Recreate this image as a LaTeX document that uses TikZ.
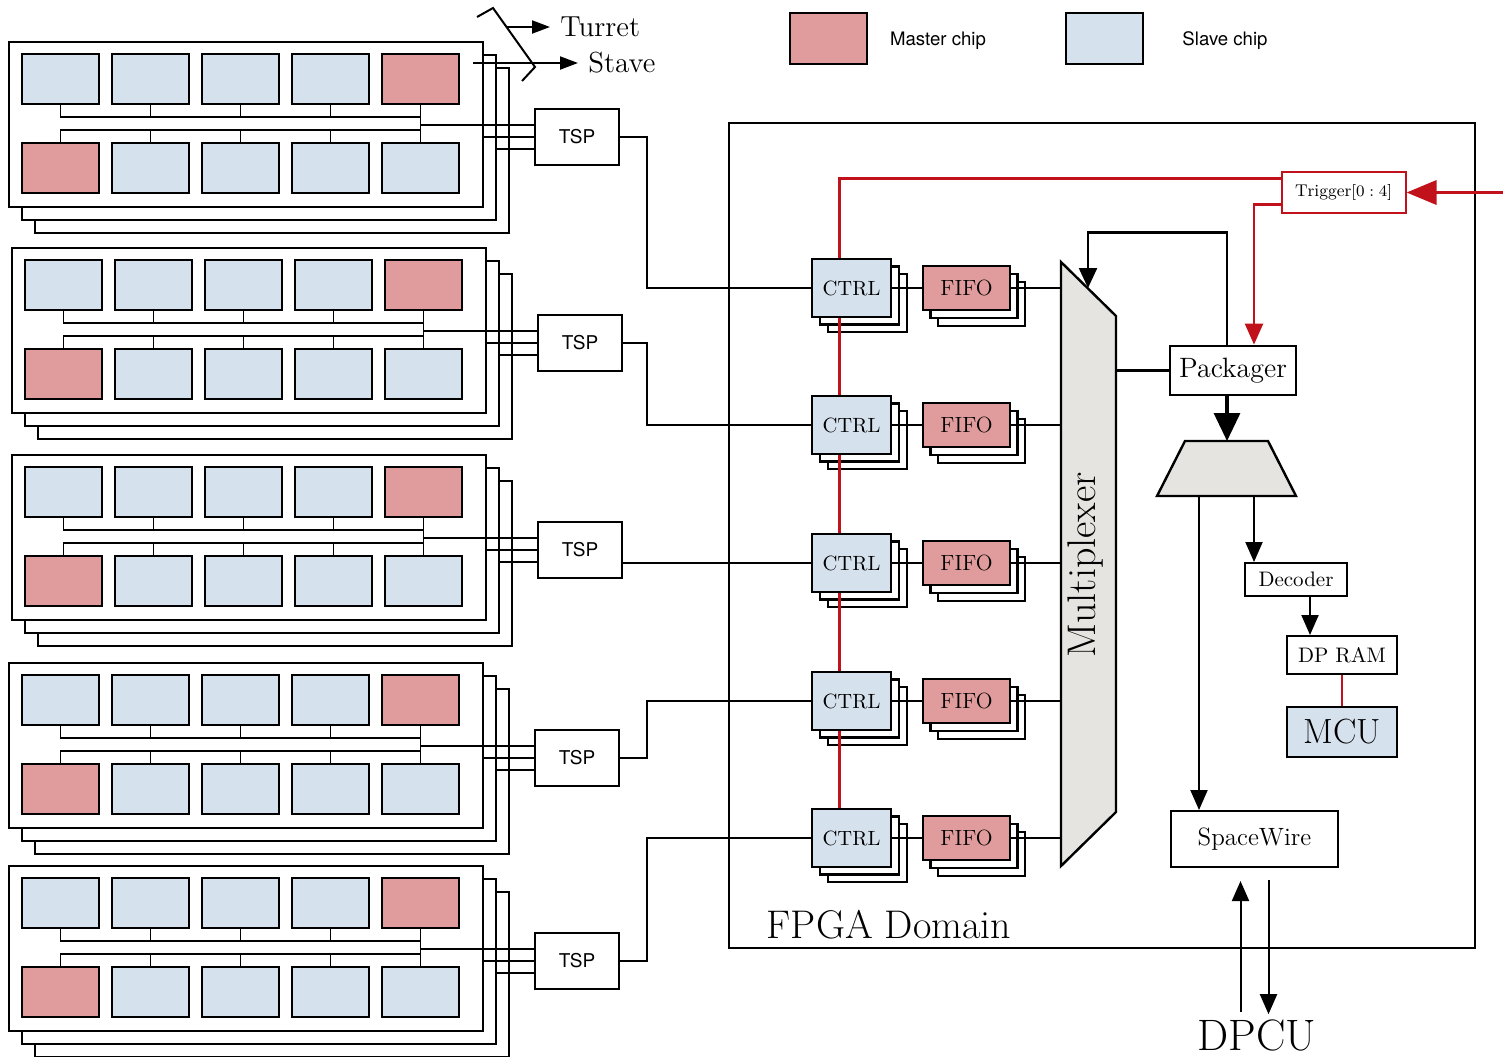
\documentclass[tikz,border=0pt]{standalone}
\usepackage{fontspec}
\newfontfamily\helv{TeX Gyre Heros}
\usetikzlibrary{arrows.meta,calc}
\definecolor{mastercol}{HTML}{E09C9C}
\definecolor{slavecol}{HTML}{D6E1EE}
\definecolor{muxgray}{HTML}{E5E4E1}
\definecolor{trigred}{HTML}{C1121C}

\begin{document}
\begin{tikzpicture}[x=0.5pt,y=-0.5pt,
  chip/.style={draw,line width=1pt,minimum width=38.5pt,minimum height=25pt,inner sep=0pt},
  masterchip/.style={chip,fill=mastercol},
  slavechip/.style={chip,fill=slavecol},
  board/.style={draw,fill=white,line width=1pt},
  wire/.style={line width=0.9pt},
  link/.style={line width=1.4pt},
  stack/.style={draw,fill=white,line width=1.1pt},
  blk/.style={draw,fill=white,line width=1.1pt,inner sep=0pt},
  redwire/.style={trigred,line width=1.1pt},
  arr/.style={line width=1pt,-{Triangle[length=10pt,width=8.5pt]}},
  sanslbl/.style={font=\helv\fontsize{9.3}{11}\selectfont}
]
  \useasboundingbox (0,0) rectangle (1503,1056);

  % Staves: three stacked boards, ten chips, one TSP each
  \foreach \n/\sx/\sy in {1/9/42,2/12/248,3/12/455,4/9/663,5/9/866} {
    \foreach \k in {2,1}
      \draw[board] (\sx+13*\k,\sy+13*\k) rectangle ++(474,165);
    \draw[board] (\sx,\sy) rectangle ++(474,165);
    \foreach \j in {0,...,3}
      \node[slavechip] (t\n\j) at (\sx+51.5+90*\j,\sy+37) {};
    \node[masterchip] (t\n4) at (\sx+411.5,\sy+37) {};
    \node[masterchip] (b\n0) at (\sx+51.5,\sy+126) {};
    \foreach \j in {1,...,4}
      \node[slavechip] (b\n\j) at (\sx+51.5+90*\j,\sy+126) {};
    \draw[wire] (t\n0.south) -- ++(0,12) -| (t\n4.south);
    \draw[wire] (b\n0.north) -- ++(0,-12) -| (b\n4.north);
    \draw[wire] (t\n4.south) -- (b\n4.north);
    \foreach \j in {1,2,3} {
      \draw[wire] (t\n\j.south) -- ++(0,12);
      \draw[wire] (b\n\j.north) -- ++(0,-12);
    }
    \node[blk,line width=1pt,minimum width=42pt,minimum height=28pt,
      font=\helv\fontsize{9.5}{11}\selectfont] (tsp\n) at (\sx+568,\sy+95) {TSP};
    \coordinate (ra\n) at (\sx+411.5,\sy+83);
    \coordinate (rb\n) at (\sx+474,\sy+95);
    \coordinate (rc\n) at (\sx+487,\sy+107);
    \foreach \c in {a,b,c}
      \draw[wire] (r\c\n) -- (r\c\n -| tsp\n.west);
  }

  % Legend
  \node[font=\fontsize{14.5}{16}\selectfont,anchor=west,inner sep=5pt] (turret) at (550,27) {Turret};
  \node[font=\fontsize{14.5}{16}\selectfont,anchor=west,inner sep=5pt] (stave) at (578,63) {Stave};
  \draw[line width=1pt] (477,17) -- (493,8) -- (535,67) -- (522,81);
  \coordinate (tsel) at (507,27);
  \coordinate (ssel) at (473,63);
  \draw[line width=1pt,-{Triangle[length=9pt,width=6.5pt]}] (tsel) -- (turret.west);
  \draw[line width=1pt,-{Triangle[length=9pt,width=6.5pt]}] (ssel) -- (stave.west);
  \node[masterchip,minimum height=25.5pt] (mkey) at (828.5,38.5) {};
  \node[sanslbl] (mtxt) at (938,41) {Master chip};
  \node[slavechip,minimum height=25.5pt] (skey) at (1104.5,38.5) {};
  \node[sanslbl] (stxt) at (1225,41) {Slave chip};

  % FPGA domain
  \draw[line width=1pt] (729,123) rectangle (1475,948);
  \node[font=\fontsize{20}{23}\selectfont,anchor=base] (fpga) at (889,938) {FPGA Domain};

  % Multiplexer
  \draw[fill=muxgray,line width=1.2pt] (1061,262) coordinate (muxtl) -- (1116,316) coordinate (muxtr)
    -- (1116,812) -- (1061,866) -- cycle;
  \node[rotate=90,font=\fontsize{20}{23}\selectfont] (muxlbl) at (1086,565) {Multiplexer};
  \coordinate (muxin) at (1088,288);

  % CTRL / FIFO channels
  \foreach \i/\ry in {1/288,2/425,3/563,4/701,5/838} {
    \foreach \k in {2,1} {
      \draw[stack] (812+8*\k,\ry-29+7.5*\k) rectangle ++(79,58);
      \draw[stack] (923+7.5*\k,\ry-22+8*\k) rectangle ++(87,44);
    }
    \node[blk,fill=slavecol,minimum width=39.5pt,minimum height=29pt,
      font=\fontsize{10.3}{12}\selectfont] (ctrl\i) at (851.5,\ry) {CTRL};
    \node[blk,fill=mastercol,minimum width=43.5pt,minimum height=22pt,
      font=\fontsize{11}{13}\selectfont] (fifo\i) at (966.5,\ry) {FIFO};
    \draw[link] (ctrl\i) -- (fifo\i);
    \draw[link] (fifo\i) -- (fifo\i -| muxtl);
  }

  % TSP to CTRL
  \coordinate (bend) at (647,0);
  \foreach \i in {1,2,4,5}
    \draw[link] (tsp\i.east) -- (tsp\i.east -| bend) |- (ctrl\i.west);
  \draw[link] (tsp3.east |- ctrl3.west) -- (ctrl3.west);

  % Trigger
  \node[blk,draw=trigred,line width=1pt,minimum width=62pt,minimum height=20.5pt,
    font=\fontsize{8.5}{10}\selectfont] (trigger) at (1343.5,192.5) {$\mathrm{Trigger}[0:4]$};
  \coordinate (trigsrc) at (1503,192.5);
  \draw[trigred,line width=1.7pt,-{Triangle[length=15pt,width=12pt]}] (trigsrc) -- (trigger.east);
  \draw[redwire] ([yshift=7pt]trigger.west) -| ([xshift=-6pt]ctrl1.north);
  \foreach \i/\j in {1/2,2/3,3/4,4/5}
    \draw[redwire] ([xshift=-6pt]ctrl\i.south) -- ([xshift=-6pt]ctrl\j.north);

  % Packager and outputs
  \node[blk,line width=1.4pt,minimum width=63pt,minimum height=24.5pt,
    font=\fontsize{14}{16}\selectfont] (packager) at (1233,370.5) {Packager};
  \draw[redwire,line width=1.2pt,-{Triangle[length=10.5pt,width=9pt]}]
    ([yshift=-6pt]trigger.west) -| ([xshift=10.5pt]packager.north);
  \draw[line width=1.2pt,-{Triangle[length=10pt,width=9pt]}]
    ([xshift=-3pt]packager.north) -- ++(0,-112) -| (muxin);
  \draw[line width=1.2pt] (packager) -- (packager -| muxtr);
  \draw[fill=muxgray,line width=1.2pt] (1185,441) -- (1268,441) -- (1296,496) -- (1157,496) -- cycle;
  \coordinate (dmxin) at (1227,441);
  \draw[line width=1.6pt,-{Triangle[length=14pt,width=13pt]}] ([xshift=-3pt]packager.south) -- (dmxin);
  \coordinate (dmxa) at (1199,496);
  \coordinate (dmxb) at (1254,496);

  \node[blk,line width=1pt,minimum width=51pt,minimum height=16.5pt,
    font=\fontsize{10.5}{12}\selectfont] (decoder) at (1296,579.5) {Decoder};
  \node[blk,line width=1pt,minimum width=55pt,minimum height=19pt,
    font=\fontsize{10.5}{12}\selectfont] (dpram) at (1342,655) {DP RAM};
  \node[blk,fill=slavecol,line width=1pt,minimum width=55pt,minimum height=25pt,
    font=\fontsize{17.5}{20}\selectfont] (mcu) at (1342,732) {MCU};
  \node[blk,line width=1pt,minimum width=83.5pt,minimum height=28pt,
    font=\fontsize{12.5}{15}\selectfont] (spacewire) at (1254.5,839) {SpaceWire};
  \node[font=\fontsize{22}{26}\selectfont,anchor=base] (dpcu) at (1257,1050) {DPCU};

  \draw[arr] (dmxa) -- (dmxa |- spacewire.north);
  \draw[arr] (dmxb) -- (dmxb |- decoder.north);
  \coordinate (dec) at ([xshift=7pt]decoder.south);
  \draw[arr] (dec) -- (dec |- dpram.north);
  \draw[redwire,line width=1.2pt] (dpram) -- (mcu);

  % DPCU link
  \coordinate (up0) at ($(spacewire.south |- dpcu.north)+(-14,0)$);
  \coordinate (up1) at ($(spacewire.south)+(-14,13)$);
  \coordinate (dn0) at ($(spacewire.south)+(14,12)$);
  \coordinate (dn1) at ($(spacewire.south |- dpcu.north)+(14,2)$);
  \draw[arr] (up0) -- (up1);
  \draw[arr] (dn0) -- (dn1);
\end{tikzpicture}
\end{document}
